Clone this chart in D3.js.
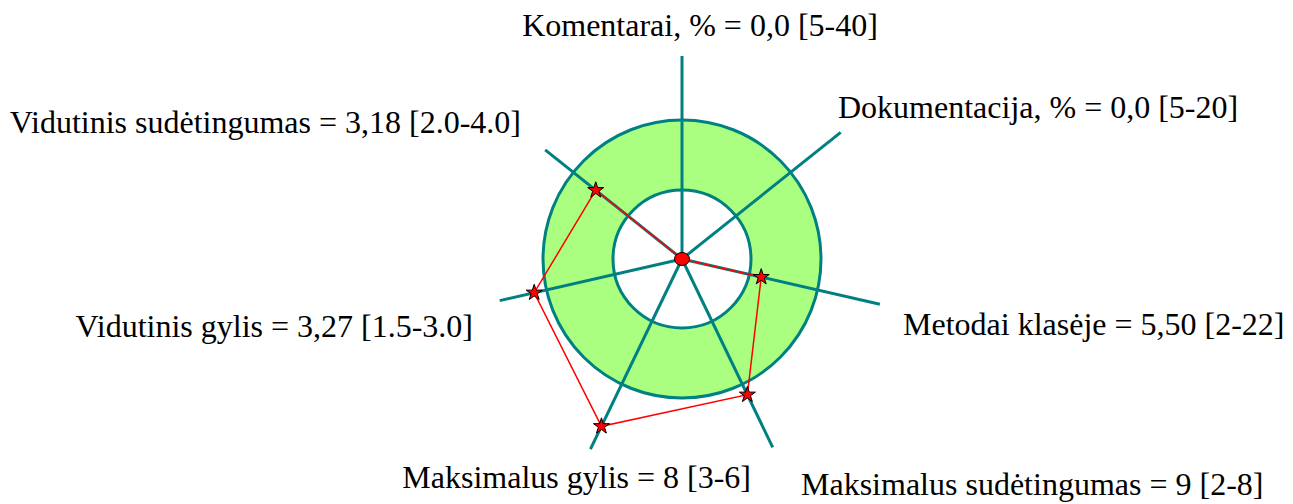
<!DOCTYPE html>
<html>
<head>
<meta charset="utf-8">
<script src="https://cdn.jsdelivr.net/npm/d3@7"></script>
<style>
    html, body { margin: 0; padding: 0; background: #fff; }
    svg { display: block; }
    text { font-family: "Liberation Serif", "Times New Roman", serif; fill: #000; }
</style>
</head>
<body>
<div id="chart"></div>
<script>
// Kiviat diagram data
const axisNames = ["Komentarai, %", "Dokumentacija, %", "Metodai klasėje", "Maksimalus sudėtingumas", "Maksimalus gylis", "Vidutinis gylis", "Vidutinis sudėtingumas"]
const values = [0, 0, 5.5, 9, 8, 3.27, 3.18]
const valueTexts = ["0,0", "0,0", "5,50", "9", "8", "3,27", "3,18"]
const lowerBounds = [5, 5, 2, 2, 3, 1.5, 2.0]
const upperBounds = [40, 20, 22, 8, 6, 3.0, 4.0]
const rangeTexts = ["5-40", "5-20", "2-22", "2-8", "3-6", "1.5-3.0", "2.0-4.0"]

/*----- layout -----*/
const width = 1293, height = 504
const cx = 682, cy = 259
const rInner = 69, rOuter = 139
const axisLen = [203, 203, 203, 209, 211, 187, 175]
// label anchor, dx, dy relative to the centre
const labelPos = [
    ["middle", 18, -223],
    ["start", 156, -141],
    ["start", 221, 76],
    ["start", 119, 236],
    ["end", 69, 229],
    ["end", -209, 78],
    ["end", -161, -126]
]
const teal = "#008080", green = "#aaff80", red = "#ff0000"

const svg = d3.select("#chart").append("svg")
    .attr("width", width)
    .attr("height", height)
    .attr("viewBox", [0, 0, width, height])

const g = svg.append("g").attr("transform", `translate(${cx},${cy})`)

// angle of each axis, clockwise from the top
const angle = d3.scaleLinear().domain([0, axisNames.length]).range([0, 2 * Math.PI])

// one radial scale per axis: 0 -> centre, lower -> inner ring, upper -> outer ring
const radial = axisNames.map((d, i) => d3.scaleLinear()
    .domain([0, lowerBounds[i], upperBounds[i]])
    .range([0, rInner, rOuter]))

const point = (i, r) => [Math.sin(angle(i)) * r, -Math.cos(angle(i)) * r]

// green band between the norm bounds
g.append("path")
    .attr("d", d3.arc()({ innerRadius: rInner, outerRadius: rOuter, startAngle: 0, endAngle: 2 * Math.PI }))
    .attr("fill", green)

g.selectAll("circle.ring")
    .data([rInner, rOuter])
    .join("circle")
    .attr("class", "ring")
    .attr("r", d => d)
    .attr("fill", "none")
    .attr("stroke", teal)
    .attr("stroke-width", 3)

// axes
g.selectAll("line.axis")
    .data(axisNames)
    .join("line")
    .attr("class", "axis")
    .attr("x1", 0)
    .attr("y1", 0)
    .attr("x2", (d, i) => point(i, axisLen[i])[0])
    .attr("y2", (d, i) => point(i, axisLen[i])[1])
    .attr("stroke", teal)
    .attr("stroke-width", 3)

// value polygon
const pts = values.map((v, i) => point(i, radial[i](v)))
g.append("path")
    .attr("d", d3.line().curve(d3.curveLinearClosed)(pts))
    .attr("fill", "none")
    .attr("stroke", red)
    .attr("stroke-width", 1.5)

// markers: stars for non-zero values, a dot at the centre for the zeros
const star = d3.symbol().type(d3.symbolStar).size(80)
g.selectAll("path.star")
    .data(values.map((v, i) => ({ v, i })).filter(d => d.v > 0))
    .join("path")
    .attr("class", "star")
    .attr("transform", d => `translate(${pts[d.i][0]},${pts[d.i][1]})`)
    .attr("d", star)
    .attr("fill", red)
    .attr("stroke", "#000")
    .attr("stroke-width", 1)

g.append("ellipse")
    .attr("rx", 7.5)
    .attr("ry", 6.5)
    .attr("fill", red)
    .attr("stroke", "#000")
    .attr("stroke-width", 1)

// labels
g.selectAll("text.label")
    .data(axisNames)
    .join("text")
    .attr("class", "label")
    .attr("text-anchor", (d, i) => labelPos[i][0])
    .attr("x", (d, i) => labelPos[i][1])
    .attr("y", (d, i) => labelPos[i][2])
    .style("font-size", "32px")
    .text((d, i) => `${d} = ${valueTexts[i]} [${rangeTexts[i]}]`)
</script>
</body>
</html>
